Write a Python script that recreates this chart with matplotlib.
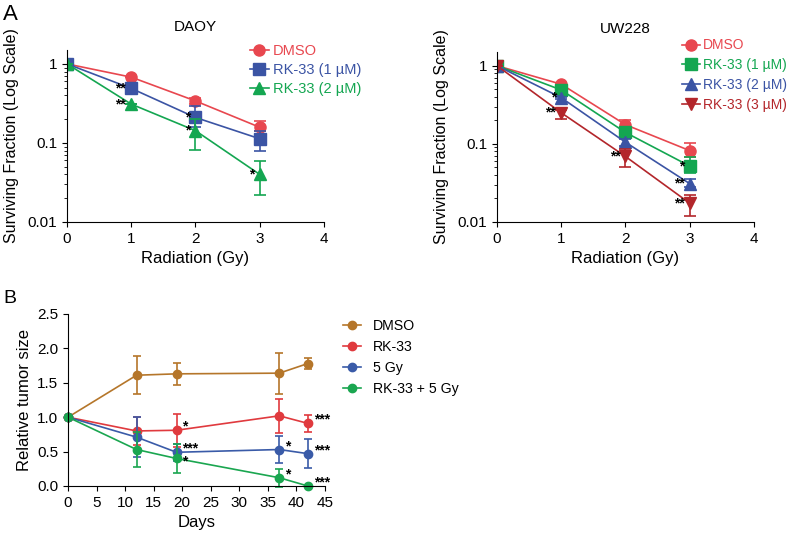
import numpy as np
import matplotlib.pyplot as plt

plt.rcParams['font.family'] = ['Liberation Sans', 'DejaVu Sans']

# Panel A data (surviving fraction)
dose = [0, 1, 2, 3]

daoy_labels = ["DMSO", "RK-33 (1 µM)", "RK-33 (2 µM)"]
daoy_vals = [[1, 0.68, 0.34, 0.158],
             [1, 0.49, 0.21, 0.113],
             [1, 0.31, 0.143, 0.040]]
daoy_lo = [[1, 0.68, 0.31, 0.14],
           [1, 0.49, 0.16, 0.078],
           [1, 0.31, 0.082, 0.022]]
daoy_hi = [[1, 0.68, 0.37, 0.19],
           [1, 0.49, 0.29, 0.14],
           [1, 0.31, 0.20, 0.059]]
daoy_stars = [["", "", "", ""], ["", "**", "*", ""], ["", "**", "*", "*"]]

uw_labels = ["DMSO", "RK-33 (1 µM)", "RK-33 (2 µM)", "RK-33 (3 µM)"]
uw_vals = [[1, 0.58, 0.176, 0.082],
           [1, 0.49, 0.14, 0.052],
           [1, 0.39, 0.105, 0.031],
           [1, 0.25, 0.069, 0.0174]]
uw_lo = [[1, 0.56, 0.155, 0.068],
         [1, 0.47, 0.125, 0.042],
         [1, 0.38, 0.095, 0.028],
         [1, 0.21, 0.05, 0.012]]
uw_hi = [[1, 0.60, 0.20, 0.104],
         [1, 0.51, 0.155, 0.067],
         [1, 0.40, 0.115, 0.035],
         [1, 0.27, 0.086, 0.022]]
uw_stars = [["", "", "", ""], ["", "", "", "*"], ["", "*", "", "**"], ["", "**", "**", "**"]]

# Panel B data (relative tumor size)
days = [0, 12, 19, 37, 42]
b_labels = ["DMSO", "RK-33", "5 Gy", "RK-33 + 5 Gy"]
b_vals = [[1.0, 1.61, 1.63, 1.64, 1.78],
          [1.0, 0.80, 0.81, 1.02, 0.91],
          [1.0, 0.71, 0.49, 0.53, 0.47],
          [1.0, 0.53, 0.40, 0.12, 0.0]]
b_err = [[0, 0.28, 0.16, 0.30, 0.08],
         [0, 0.20, 0.24, 0.25, 0.12],
         [0, 0.29, 0.12, 0.19, 0.21],
         [0, 0.26, 0.21, 0.13, 0.0]]
b_stars = [["", "", "", "", ""],
           ["", "", "*", "", "***"],
           ["", "", "***", "*", "***"],
           ["", "", "*", "*", "***"]]

daoy_colors = ["#e8474f", "#3b54a4", "#14a651"]
uw_colors = ["#e8474f", "#14a651", "#3b54a4", "#b3262b"]
b_colors = ["#b5762a", "#e03a3e", "#3a5ba8", "#1aa650"]
markers_daoy = ["o", "s", "^"]
markers_uw = ["o", "s", "^", "v"]

fig = plt.figure(figsize=(7.93, 5.33), dpi=100)


def panel_a(ax, title, labels, vals, lo, hi, stars, colors, markers, star_off):
    for i in range(len(labels)):
        v = np.array(vals[i])
        yerr = [v - np.array(lo[i]), np.array(hi[i]) - v]
        ax.errorbar(dose, v, yerr=yerr, fmt='none', ecolor=colors[i],
                    capsize=4, elinewidth=1.2, capthick=1.2)
        ax.plot(dose, v, color=colors[i], marker=markers[i], markersize=8,
                lw=1.2, label=labels[i])
        for j, s in enumerate(stars[i]):
            if s:
                ax.text(dose[j] - star_off, v[j], s, ha='right', va='center',
                        fontsize=10, fontweight='bold')
    ax.set_yscale('log')
    ax.set_ylim(0.01, 1.5)
    ax.set_xlim(0, 4)
    ax.set_xticks([0, 1, 2, 3, 4])
    ax.set_yticks([0.01, 0.1, 1])
    ax.set_yticklabels(["0.01", "0.1", "1"])
    ax.spines['top'].set_visible(False)
    ax.spines['right'].set_visible(False)
    ax.tick_params(labelsize=11, direction='out')
    ax.set_xlabel("Radiation (Gy)", fontsize=12)
    ax.set_ylabel("Surviving Fraction (Log Scale)", fontsize=11.5, labelpad=6)
    ax.set_title(title, fontsize=11, pad=14)


ax1 = fig.add_axes([0.0845, 0.5835, 0.324, 0.3227])
panel_a(ax1, "DAOY", daoy_labels, daoy_vals, daoy_lo, daoy_hi, daoy_stars,
        daoy_colors, markers_daoy, 0.08)
leg = ax1.legend(loc='upper left', bbox_to_anchor=(0.712, 1.035), frameon=False,
                 fontsize=10.5, handlelength=1.3, handletextpad=0.25,
                 labelspacing=0.35, borderpad=0, borderaxespad=0)
for t, c in zip(leg.get_texts(), daoy_colors):
    t.set_color(c)

ax2 = fig.add_axes([0.6267, 0.5835, 0.324, 0.3190])
panel_a(ax2, "UW228", uw_labels, uw_vals, uw_lo, uw_hi, uw_stars,
        uw_colors, markers_uw, 0.08)
leg = ax2.legend(loc='upper left', bbox_to_anchor=(0.72, 1.08), frameon=False,
                 fontsize=10, handlelength=1.3, handletextpad=0.2,
                 labelspacing=0.42, borderpad=0, borderaxespad=0)
for t, c in zip(leg.get_texts(), uw_colors):
    t.set_color(c)

ax3 = fig.add_axes([0.0858, 0.0882, 0.324, 0.3227])
for i in range(len(b_labels)):
    ax3.errorbar(days, b_vals[i], yerr=b_err[i], fmt='none', ecolor=b_colors[i],
                 capsize=3, elinewidth=1.2, capthick=1.2, clip_on=False)
    ax3.plot(days, b_vals[i], color=b_colors[i], marker='o', markersize=6,
             lw=1.2, label=b_labels[i], clip_on=False)
    for j, s in enumerate(b_stars[i]):
        if s:
            dy = -0.04 if (i == 3 and j == 2) else 0.05
            ax3.text(days[j] + 1.0, b_vals[i][j] + dy, s, ha='left', va='center',
                     fontsize=10, fontweight='bold')
ax3.set_xlim(0, 45)
ax3.set_ylim(0, 2.5)
ax3.set_xticks(range(0, 46, 5))
ax3.set_yticks([0, 0.5, 1.0, 1.5, 2.0, 2.5])
ax3.set_yticklabels(["0.0", "0.5", "1.0", "1.5", "2.0", "2.5"])
ax3.spines['top'].set_visible(False)
ax3.spines['right'].set_visible(False)
ax3.tick_params(labelsize=11)
ax3.set_xlabel("Days", fontsize=12)
ax3.set_ylabel("Relative tumor size", fontsize=12)
ax3.legend(loc='upper left', bbox_to_anchor=(1.07, 0.97), frameon=False,
           fontsize=10.2, handlelength=1.3, handletextpad=0.8, labelspacing=0.48,
           borderpad=0, borderaxespad=0)

fig.text(0.004, 0.993, "A", fontsize=16, va='top')
fig.text(0.004, 0.455, "B", fontsize=14, va='top')

fig.savefig("out.png", dpi=100)
